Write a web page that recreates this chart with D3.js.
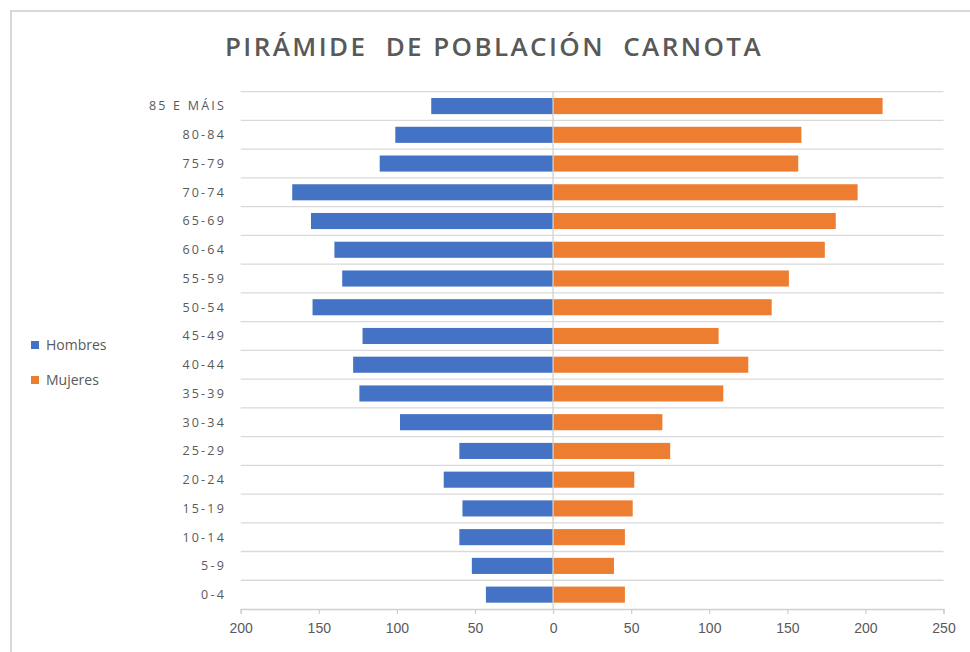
<!DOCTYPE html>
<html>
<head>
<meta charset="utf-8">
<script src="https://cdn.jsdelivr.net/npm/d3@7"></script>
<style>
  body { margin: 0; background: #fff; }
  svg { display: block; font-family: "Open Sans", "Liberation Sans", sans-serif; }
</style>
</head>
<body>
<svg id="chart" width="970" height="652"></svg>
<script>
// datos: grupos de idade (de arriba abaixo) e poboación por sexo
var grupos = ["85 E MÁIS", "80-84", "75-79", "70-74", "65-69", "60-64", "55-59", "50-54", "45-49",
              "40-44", "35-39", "30-34", "25-29", "20-24", "15-19", "10-14", "5-9", "0-4"];
var hombres = [78, 101, 111, 167, 155, 140, 135, 154, 122, 128, 124, 98, 60, 70, 58, 60, 52, 43];
var mujeres = [211, 159, 157, 195, 181, 174, 151, 140, 106, 125, 109, 70, 75, 52, 51, 46, 39, 46];
var ticks = [-200, -150, -100, -50, 0, 50, 100, 150, 200, 250];
var series = ["Hombres", "Mujeres"];
var colores = ["#4472c4", "#ed7d31"];

var svg = d3.select("#chart");
var gray = "#595959";

// marco do gráfico
svg.append("path")
  .attr("d", "M11,652 V11 H970")
  .attr("fill", "none")
  .attr("stroke", "#d9d9d9")
  .attr("stroke-width", 2);

var x = d3.scaleLinear().domain([-200, 250]).range([240.7, 943.5]);
var y = d3.scaleBand().domain(grupos).range([91.7, 609]).paddingInner(0.44).paddingOuter(0.22);

// liñas horizontais entre categorías
var lines = d3.range(grupos.length).map(i => 91.7 + i * (609 - 91.7) / grupos.length);
svg.append("g").selectAll("line")
  .data(lines)
  .enter().append("line")
    .attr("x1", x(-200)).attr("x2", x(250))
    .attr("y1", d => d).attr("y2", d => d)
    .attr("stroke", "#d9d9d9").attr("stroke-width", 1.3);

// barras
svg.append("g").selectAll("rect")
  .data(grupos)
  .enter().append("rect")
    .attr("x", (d, i) => x(-hombres[i]))
    .attr("y", d => y(d))
    .attr("width", (d, i) => x(0) - x(-hombres[i]))
    .attr("height", y.bandwidth())
    .attr("fill", colores[0]);

svg.append("g").selectAll("rect")
  .data(grupos)
  .enter().append("rect")
    .attr("x", x(0))
    .attr("y", d => y(d))
    .attr("width", (d, i) => x(mujeres[i]) - x(0))
    .attr("height", y.bandwidth())
    .attr("fill", colores[1]);

// eixo vertical en 0
svg.append("line")
  .attr("x1", x(0)).attr("x2", x(0))
  .attr("y1", 91.7).attr("y2", 609)
  .attr("stroke", "#d0d0d0").attr("stroke-width", 1.3);

// eixo X
var xAxis = d3.axisBottom(x)
  .tickValues(ticks)
  .tickFormat(d => Math.abs(d))
  .tickSize(5)
  .tickPadding(9);

var gx = svg.append("g")
  .attr("transform", "translate(0,609)")
  .call(xAxis);
gx.select(".domain").attr("stroke", "#d0d0d0").attr("stroke-width", 1.3);
gx.selectAll(".tick line").attr("stroke", "#d0d0d0").attr("stroke-width", 1.3);
gx.selectAll("text").attr("fill", gray).style("font-size", "14px");

// etiquetas de categoría
svg.append("g").selectAll("text")
  .data(grupos)
  .enter().append("text")
    .attr("x", 226)
    .attr("y", d => y(d) + y.bandwidth() / 2)
    .attr("dy", "0.35em")
    .attr("text-anchor", "end")
    .attr("fill", gray)
    .style("font-size", "12.5px")
    .style("letter-spacing", "2.2px")
    .text(d => d);

// título
svg.append("text")
  .attr("x", 494)
  .attr("y", 56)
  .attr("text-anchor", "middle")
  .attr("fill", gray)
  .style("font-size", "26px")
  .style("font-weight", "600")
  .style("letter-spacing", "2.4px")
  .style("white-space", "pre")
  .text("PIRÁMIDE  DE POBLACIÓN  CARNOTA");

// lenda
var legend = svg.append("g").selectAll("g")
  .data(series)
  .enter().append("g")
    .attr("transform", (d, i) => "translate(31," + (341 + i * 35) + ")");
legend.append("rect")
  .attr("width", 8).attr("height", 8)
  .attr("fill", (d, i) => colores[i]);
legend.append("text")
  .attr("x", 15).attr("y", 4).attr("dy", "0.35em")
  .attr("fill", gray)
  .style("font-size", "14px")
  .text(d => d);
</script>
</body>
</html>
